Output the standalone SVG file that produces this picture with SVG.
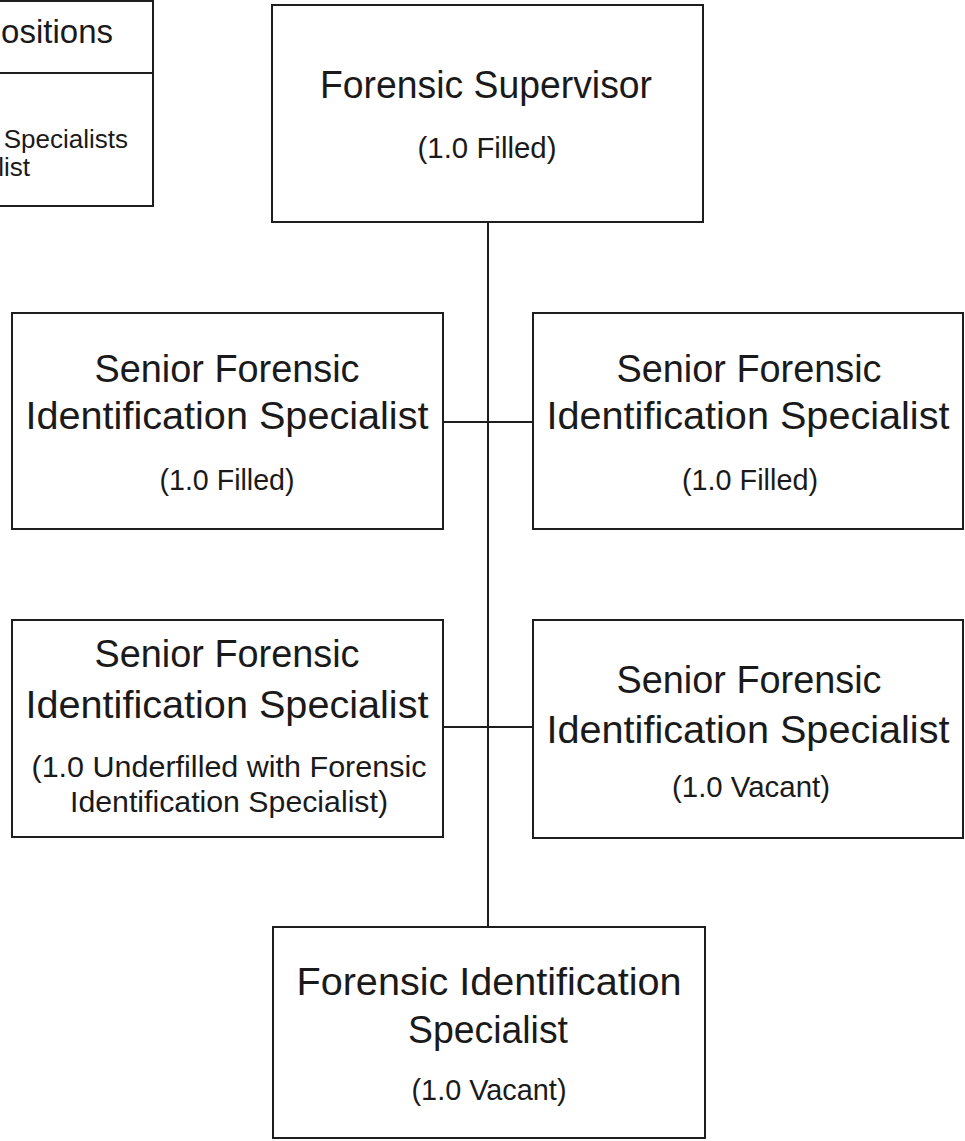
<svg xmlns="http://www.w3.org/2000/svg" width="965" height="1141" viewBox="0 0 965 1141">
<style>
  .box { fill: #ffffff; stroke: #1e1e1e; stroke-width: 2; }
  .conn { stroke: #1e1e1e; stroke-width: 2; fill: none; }
  text { font-family: "Liberation Sans", Arial, sans-serif; fill: #1a1a1a; text-anchor: middle; }
  .t { font-size: 38px; }
  .s { font-size: 29.5px; }
  .lh { font-size: 33px; text-anchor: end; }
  .lb { font-size: 26px; text-anchor: end; }
</style>
<rect x="0" y="0" width="965" height="1141" fill="#ffffff"/>
<g id="connectors">
  <line class="conn" x1="488" y1="222" x2="488" y2="927"/>
  <line class="conn" x1="443" y1="422" x2="533" y2="422"/>
  <line class="conn" x1="443" y1="727" x2="533" y2="727"/>
</g>
<g id="legend">
  <rect class="box" x="-10" y="1" width="163" height="205"/>
  <line class="conn" x1="-10" y1="73" x2="153" y2="73"/>
  <text class="lh" x="113" y="43">Positions</text>
  <text class="lb" x="128" y="148">Specialists</text>
  <text class="lb" x="30" y="176">list</text>
</g>
<g id="supervisor">
  <rect class="box" x="272" y="5" width="431" height="217"/>
  <text class="t" x="486" y="98" textLength="332" lengthAdjust="spacingAndGlyphs">Forensic Supervisor</text>
  <text class="s" x="487" y="158" textLength="139" lengthAdjust="spacingAndGlyphs">(1.0 Filled)</text>
</g>
<g id="senior1">
  <rect class="box" x="12" y="313" width="431" height="216"/>
  <text class="t" x="227" y="382" textLength="265" lengthAdjust="spacingAndGlyphs">Senior Forensic</text>
  <text class="t" x="227" y="429" textLength="403" lengthAdjust="spacingAndGlyphs">Identification Specialist</text>
  <text class="s" x="227" y="490" textLength="135" lengthAdjust="spacingAndGlyphs">(1.0 Filled)</text>
</g>
<g id="senior2">
  <rect class="box" x="533" y="313" width="430" height="216"/>
  <text class="t" x="749" y="382" textLength="265" lengthAdjust="spacingAndGlyphs">Senior Forensic</text>
  <text class="t" x="748" y="429" textLength="403" lengthAdjust="spacingAndGlyphs">Identification Specialist</text>
  <text class="s" x="750" y="490" textLength="136" lengthAdjust="spacingAndGlyphs">(1.0 Filled)</text>
</g>
<g id="senior3">
  <rect class="box" x="12" y="620" width="431" height="217"/>
  <text class="t" x="227" y="667" textLength="265" lengthAdjust="spacingAndGlyphs">Senior Forensic</text>
  <text class="t" x="227" y="718" textLength="403" lengthAdjust="spacingAndGlyphs">Identification Specialist</text>
  <text class="s" x="229" y="777" textLength="395" lengthAdjust="spacingAndGlyphs">(1.0 Underfilled with Forensic</text>
  <text class="s" x="229" y="812" textLength="318" lengthAdjust="spacingAndGlyphs">Identification Specialist)</text>
</g>
<g id="senior4">
  <rect class="box" x="533" y="620" width="430" height="218"/>
  <text class="t" x="749" y="693" textLength="265" lengthAdjust="spacingAndGlyphs">Senior Forensic</text>
  <text class="t" x="748" y="743" textLength="403" lengthAdjust="spacingAndGlyphs">Identification Specialist</text>
  <text class="s" x="751" y="797" textLength="158" lengthAdjust="spacingAndGlyphs">(1.0 Vacant)</text>
</g>
<g id="specialist">
  <rect class="box" x="273" y="927" width="432" height="211"/>
  <text class="t" x="489" y="995" textLength="385" lengthAdjust="spacingAndGlyphs">Forensic Identification</text>
  <text class="t" x="488" y="1043" textLength="160" lengthAdjust="spacingAndGlyphs">Specialist</text>
  <text class="s" x="489" y="1100" textLength="155" lengthAdjust="spacingAndGlyphs">(1.0 Vacant)</text>
</g>
</svg>
